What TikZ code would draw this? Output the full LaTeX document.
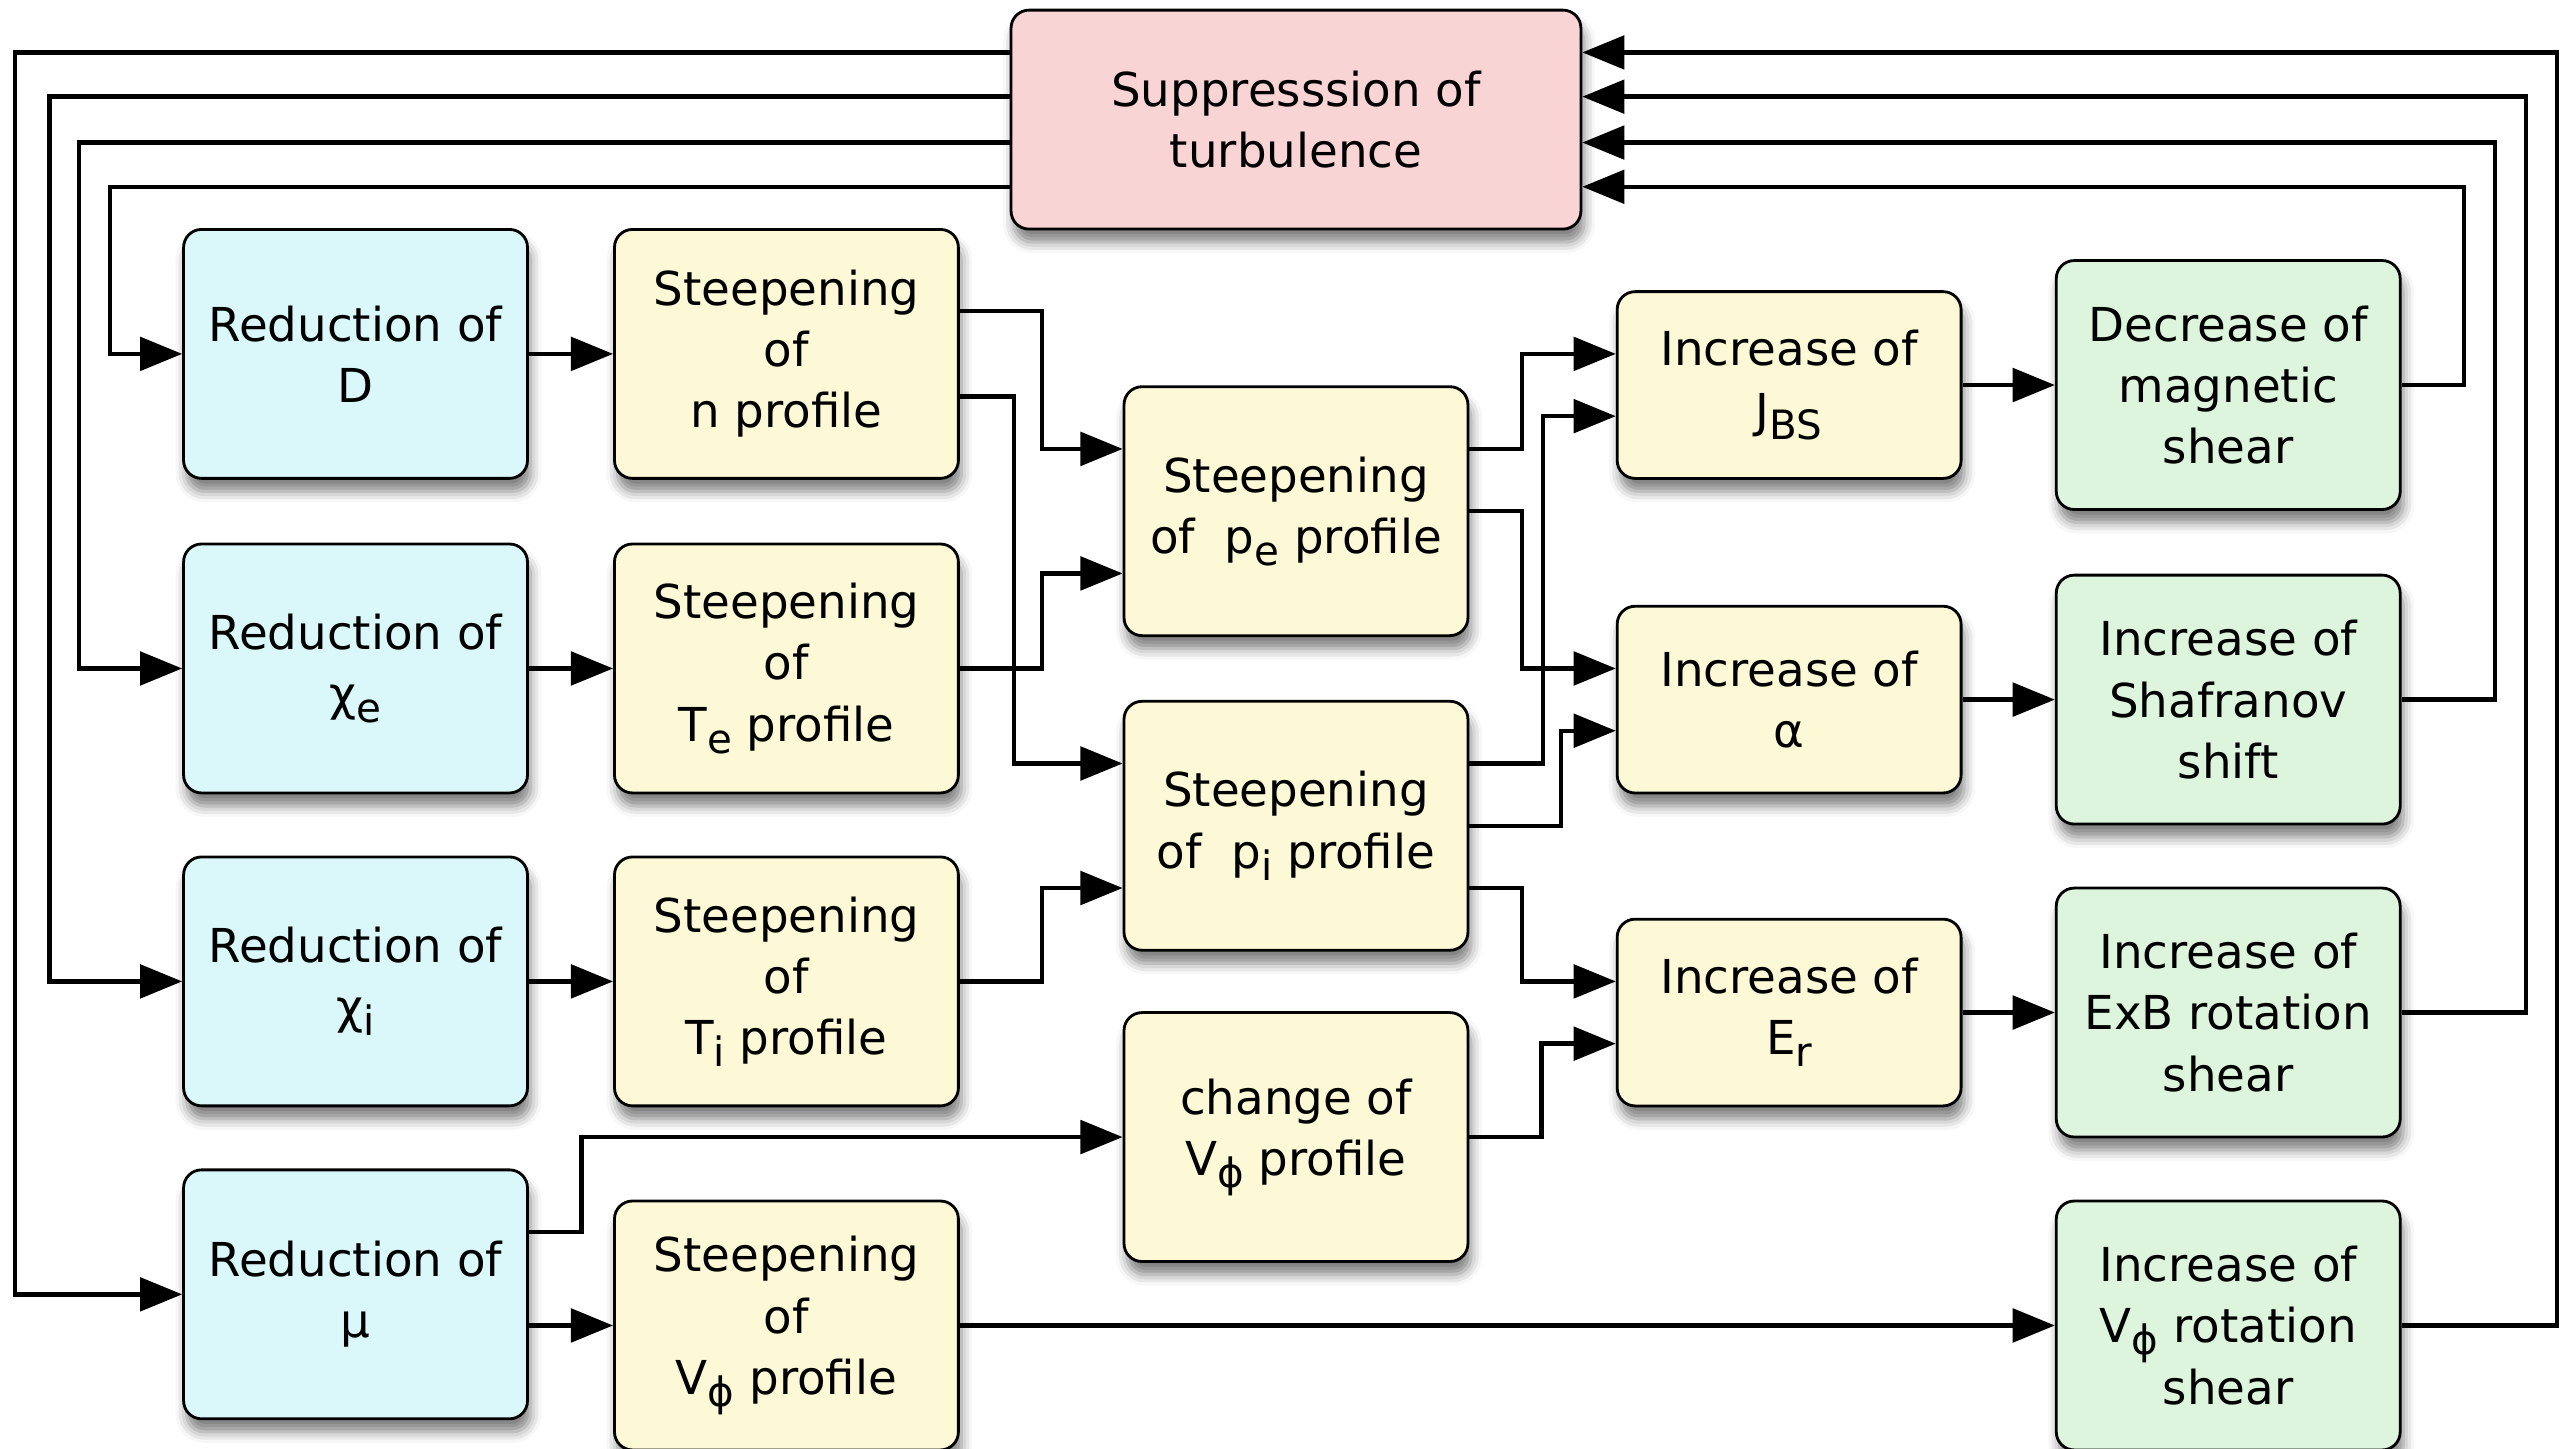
\documentclass[tikz,border=0pt]{standalone}
\usepackage{fontspec}
\setmainfont{DejaVu Sans}
\usetikzlibrary{arrows.meta,calc,shadows.blur}

\definecolor{redfill}{RGB}{249,212,212}
\definecolor{bluefill}{RGB}{218,248,250}
\definecolor{yelfill}{RGB}{253,248,214}
\definecolor{grnfill}{RGB}{220,245,220}
\newcommand{\lowsub}[1]{\raisebox{-3.4pt}{\fontsize{11.5}{11.5}\selectfont #1}}

\begin{document}
\begin{tikzpicture}[x=0.016384cm, y=-0.016384cm, >={Triangle[length=12pt,width=9.5pt]},
  font=\fontsize{13.3}{17.4}\selectfont,
  box/.style={draw, line width=0.8pt, rounded corners=1.8mm, align=center,
    minimum width=3.44cm, minimum height=2.49cm, inner sep=1pt,
    blur shadow={shadow xshift=0.3mm, shadow yshift=-1.3mm, shadow blur radius=1.1mm, shadow opacity=50}},
  redbox/.style={box, fill=redfill, minimum width=5.70cm, minimum height=2.19cm},
  bluebox/.style={box, fill=bluefill},
  yelbox/.style={box, fill=yelfill},
  grnbox/.style={box, fill=grnfill},
  link/.style={->, line width=1.25pt}]
\useasboundingbox (0,0) rectangle (1568,884);
% central goal
\node[redbox] (top) at (791,73) {Suppresssion of\\turbulence};
% reductions of transport
\node[bluebox] (redD) at (217,216) {Reduction of\\D};
\node[bluebox] (xie) at (217,408) {Reduction of\\χ\lowsub{e}};
\node[bluebox] (xii) at (217,599) {Reduction of\\χ\lowsub{i}};
\node[bluebox] (mu) at (217,790) {Reduction of\\μ};
% steepened profiles
\node[yelbox] (nprof) at (480,216) {Steepening\\of\\n profile};
\node[yelbox] (teprof) at (480,408) {Steepening\\of\\T\lowsub{e} profile};
\node[yelbox] (tiprof) at (480,599) {Steepening\\of\\T\lowsub{i} profile};
\node[yelbox] (vsteep) at (480,809) {Steepening\\of\\V\lowsub{ϕ} profile};
% pressure profiles and rotation
\node[yelbox] (ppe) at (791,312) {Steepening\\of~ p\lowsub{e} profile};
\node[yelbox] (ppi) at (791,504) {Steepening\\of~ p\lowsub{i} profile};
\node[yelbox] (chv) at (791,694) {change of\\V\lowsub{ϕ} profile};
% increases
\node[yelbox, minimum height=1.868cm] (jbs) at (1092,235) {Increase of\\J\lowsub{BS}};
\node[yelbox, minimum height=1.868cm] (alpha) at (1092,427) {Increase of\\α};
\node[yelbox, minimum height=1.868cm] (er) at (1092,618) {Increase of\\E\lowsub{r}};
% shear effects
\node[grnbox] (mag) at (1360,235) {Decrease of\\magnetic\\shear};
\node[grnbox] (shaf) at (1360,427) {Increase of\\Shafranov\\shift};
\node[grnbox] (exb) at (1360,618) {Increase of\\ExB rotation\\shear};
\node[grnbox] (vrot) at (1360,809) {Increase of\\V\lowsub{ϕ} rotation\\shear};

% feedback to the left column
\draw[link] ($(top.west)+(0,-41)$) -- ++(-607,0) |- (mu.west);
\draw[link] ($(top.west)+(0,-14)$) -- ++(-586,0) |- (xii.west);
\draw[link] ($(top.west)+(0,14)$) -- ++(-568,0) |- (xie.west);
\draw[link] ($(top.west)+(0,41)$) -- ++(-549,0) |- (redD.west);
% feedback from the right column
\draw[link] (vrot.east) -- ++(95,0) |- ($(top.east)+(0,-41)$);
\draw[link] (exb.east) -- ++(76,0) |- ($(top.east)+(0,-14)$);
\draw[link] (shaf.east) -- ++(57,0) |- ($(top.east)+(0,14)$);
\draw[link] (mag.east) -- ++(38,0) |- ($(top.east)+(0,41)$);
% reductions to profiles
\draw[link] (redD) -- (nprof);
\draw[link] (xie) -- (teprof);
\draw[link] (xii) -- (tiprof);
\draw[link] (mu.east |- vsteep.west) -- (vsteep.west);
\draw[link] ($(mu.east)+(0,-38)$) -- ++(32,0) |- (chv.west);
% profiles to pressures
\draw[link] ($(nprof.east)+(0,-26)$) -- ++(50,0) |- ($(ppe.west)+(0,-38)$);
\draw[link] ($(nprof.east)+(0,26)$) -- ++(33,0) |- ($(ppi.west)+(0,-38)$);
\draw[link] (teprof.east) -- ++(50,0) |- ($(ppe.west)+(0,38)$);
\draw[link] (tiprof.east) -- ++(50,0) |- ($(ppi.west)+(0,38)$);
% pressures to increases
\draw[link] ($(ppe.east)+(0,-38)$) -- ++(32,0) |- ($(jbs.west)+(0,-19)$);
\draw[link] (ppe.east) -- ++(32,0) |- ($(alpha.west)+(0,-19)$);
\draw[link] ($(ppi.east)+(0,-38)$) -- ++(45,0) |- ($(jbs.west)+(0,19)$);
\draw[link] (ppi.east) -- ++(56,0) |- ($(alpha.west)+(0,19)$);
\draw[link] ($(ppi.east)+(0,38)$) -- ++(32,0) |- ($(er.west)+(0,-19)$);
\draw[link] (chv.east) -- ++(44,0) |- ($(er.west)+(0,19)$);
% increases to shear effects
\draw[link] (jbs) -- (mag);
\draw[link] (alpha) -- (shaf);
\draw[link] (er) -- (exb);
\draw[link] (vsteep) -- (vrot);
\end{tikzpicture}
\end{document}
